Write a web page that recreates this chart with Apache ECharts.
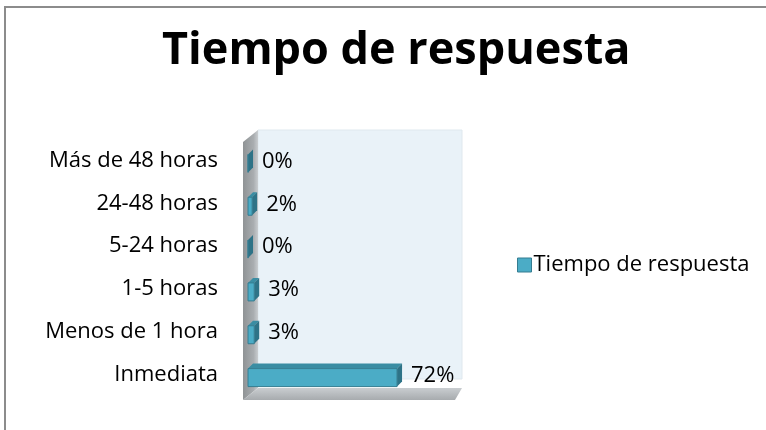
<!DOCTYPE html>
<html>
<head>
<meta charset="utf-8">
<script src="https://cdn.jsdelivr.net/npm/echarts@6/dist/echarts.min.js"></script>
<style>
  html, body { margin: 0; padding: 0; background: #fff; }
  #main { width: 766px; height: 430px; }
</style>
</head>
<body>
<div id="main"></div>
<script>
// datos
var categorias = ['Inmediata', 'Menos de 1 hora', '1-5 horas', '5-24 horas', '24-48 horas', 'Más de 48 horas'];
var valores = [72, 3, 3, 0, 2, 0];
var serieNombre = 'Tiempo de respuesta';

var chart = echarts.init(document.getElementById('main'));

// posicion del plano frontal del grafico
var gL = 248, gT = 139, gW = 207, gH = 257;
var fuente = '"Open Sans", sans-serif';

function render3d(params, api) {
  var v = api.value(0);
  var fin = api.coord([v, api.value(1)]);
  var ini = api.coord([0, api.value(1)]);
  var h = api.size([0, 1])[1] * 0.42;
  var d = 5; // profundidad
  var x0 = ini[0], x1 = fin[0];
  var y0 = fin[1] - h / 2 + 3, y1 = fin[1] + h / 2 + 3;
  return {
    type: 'group',
    children: [
      { type: 'polygon', shape: { points: [[x0, y0], [x0 + d, y0 - d], [x1 + d, y0 - d], [x1, y0]] },
        style: { fill: '#3a8da3' } },
      { type: 'polygon', shape: { points: [[x1, y0], [x1 + d, y0 - d], [x1 + d, y1 - d], [x1, y1]] },
        style: { fill: '#2e7387' } },
      { type: 'rect', shape: { x: x0, y: y0, width: x1 - x0, height: y1 - y0 },
        style: { fill: '#4bacc6', stroke: '#357d91', lineWidth: 1 } },
      { type: 'text', x: x1 + 14, y: fin[1] + 1,
        style: { text: v + '%', fill: '#000', font: '22px ' + fuente, verticalAlign: 'middle' } }
    ]
  };
}

var option = {
  backgroundColor: '#fff',
  animation: false,
  title: {
    text: 'Tiempo de respuesta',
    left: 157,
    top: 24,
    textStyle: { fontFamily: fuente, fontSize: 45, fontWeight: 'bold', color: '#000' }
  },
  legend: {
    left: 512,
    top: 249,
    itemWidth: 14,
    itemHeight: 14,
    itemGap: 4,
    icon: 'rect',
    textStyle: { fontFamily: fuente, fontSize: 22, color: '#000', padding: [0, 0, 0, -3] },
    data: [{ name: serieNombre, itemStyle: { color: '#4bacc6', borderColor: '#357d91', borderWidth: 1 } }]
  },
  grid: { left: gL, top: gT, width: gW, height: gH },
  xAxis: {
    type: 'value', min: 0, max: 100,
    axisLine: { show: false }, axisTick: { show: false },
    axisLabel: { show: false }, splitLine: { show: false }
  },
  yAxis: {
    type: 'category',
    data: categorias,
    axisLine: { show: false }, axisTick: { show: false },
    axisLabel: { margin: 30, fontFamily: fuente, fontSize: 22, color: '#000' }
  },
  graphic: [
    // borde del area
    { type: 'polyline', z: -10, shape: { points: [[5, 430], [5, 7], [766, 7]] },
      style: { fill: 'none', stroke: '#8c8c8c', lineWidth: 2 } },
    // pared del fondo
    { type: 'rect', z: -9, shape: { x: gL + 10, y: gT - 9, width: gW - 3, height: gH - 8 },
      style: { fill: '#e9f2f8', stroke: '#dfe8ee', lineWidth: 1 } },
    // pared izquierda
    { type: 'polygon', z: -8, shape: { points: [[gL - 5, gT + 3], [gL + 10, gT - 9], [gL + 10, gT + gH - 8], [gL - 5, gT + gH + 4]] },
      style: { fill: new echarts.graphic.LinearGradient(0, 0, 1, 0, [{ offset: 0, color: '#8f9395' }, { offset: 0.7, color: '#a9adb0' }, { offset: 1, color: '#c9cdd0' }]) } },
    // piso
    { type: 'polygon', z: -8, shape: { points: [[gL - 5, gT + gH + 4], [gL + 10, gT + gH - 8], [gL + gW + 7, gT + gH - 8], [gL + gW, gT + gH + 4]] },
      style: { fill: new echarts.graphic.LinearGradient(0, 0, 0, 1, [{ offset: 0, color: '#c9cdd0' }, { offset: 1, color: '#a7abae' }]) } }
  ],
  series: [{
    name: serieNombre,
    type: 'custom',
    renderItem: render3d,
    encode: { x: 0, y: 1 },
    itemStyle: { color: '#4bacc6' },
    data: valores.map(function (v, i) { return [v, i]; })
  }]
};

chart.setOption(option);
</script>
</body>
</html>
